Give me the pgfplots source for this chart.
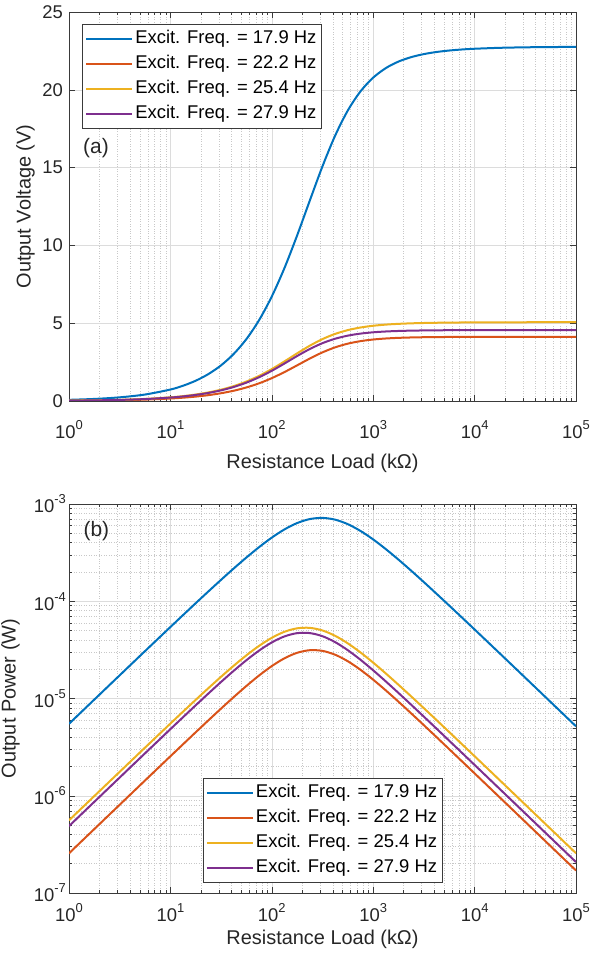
\documentclass[border=0pt]{standalone}
\usepackage{fontspec}
\setmainfont{Liberation Sans}
\usepackage{pgfplots}
\pgfplotsset{compat=1.18}
\definecolor{mblue}{HTML}{0072BD}
\definecolor{morange}{HTML}{D95319}
\definecolor{myellow}{HTML}{EDB120}
\definecolor{mpurple}{HTML}{7E2F8E}
\definecolor{axcol}{HTML}{3A3A3A}
\definecolor{gridmaj}{HTML}{DCDCDC}
\definecolor{gridmin}{HTML}{C8C8C8}
\definecolor{legcol}{HTML}{3A3A3A}
\newcommand{\logtick}{10\raisebox{9bp}{\fontsize{13}{13}\selectfont\pgfmathprintnumber[fixed,precision=0,assume math mode=true]{\tick}}}
\begin{document}
\begin{tikzpicture}[x=1bp,y=1bp]
\useasboundingbox (0,0) rectangle (601,958);
% ---------------- (a) ----------------
\begin{axis}[at={(69bp,557bp)}, anchor=south west,
  scale only axis, width=507bp, height=389bp,
  xmode=log, log basis x=10, xmin=1, xmax=100000,
  ymin=0, ymax=25, ytick={0,5,10,15,20,25},
  tick align=inside, xtick pos=both, ytick pos=both,
  major tick length=6bp, minor tick length=3bp,
  axis line style={color=axcol, line width=0.6bp},
  every tick/.style={color=axcol, line width=0.5bp},
  major grid style={color=gridmaj, line width=0.5bp},
  minor grid style={color=gridmin, line width=0.5bp, dotted},
  xmajorgrids=true, xminorgrids=true, ymajorgrids=true,
  tick label style={font=\fontsize{18.5}{20}\selectfont, text=black!85},
  xticklabel={\logtick},
  yticklabel={\pgfmathprintnumber[assume math mode=true]{\tick}},
  label style={font=\fontsize{20}{22}\selectfont, text=black!85, inner sep=0pt},
  xticklabel style={inner sep=0pt, anchor=north, yshift=-19bp},
  yticklabel style={inner sep=0pt, anchor=east, xshift=-6bp},
  xlabel={Resistance Load (k\char"03A9)},
  ylabel={Output Voltage (V)},
  xlabel style={at={(axis description cs:0.5,-0.137)}, anchor=north},
  ylabel style={at={(axis description cs:-0.067,0.5)}, anchor=south},
  legend cell align=left,
  legend style={at={(axis description cs:0.0256,0.969)}, anchor=north west,
    draw=legcol, fill=white, line width=0.6bp,
    font=\fontsize{18.5}{20}\selectfont, inner sep=3bp, row sep=2bp,
    nodes={inner sep=2bp, text height=14bp, text depth=5bp, anchor=west}},
  legend image code/.code={\draw[#1] (0bp,0bp) -- (46bp,0bp);},
]
\addplot[line width=2bp, smooth, mark=none, mblue] coordinates {(1,0.0741) (1.778,0.1317) (3.162,0.2341) (5.623,0.4156) (10,0.7371) (13.34,0.9811) (17.78,1.3035) (23.71,1.7304) (31.62,2.2927) (42.17,3.0287) (56.23,3.982) (74.99,5.1997) (100,6.718) (133.4,8.550) (177.8,10.642) (237.1,12.883) (316.2,15.086) (421.7,17.059) (562.3,18.674) (749.9,19.901) (1000,20.782) (1334,21.396) (1778,21.814) (2371,22.099) (3162,22.294) (4217,22.429) (5623,22.523) (7499,22.590) (10000,22.637) (17783,22.697) (31623,22.729) (56234,22.746) (100000,22.756)};
\addlegendentry{Excit. Freq. = 17.9 Hz}
\addplot[line width=2bp, smooth, mark=none, morange] coordinates {(1,0.0160) (1.778,0.02844) (3.162,0.05056) (5.623,0.08985) (10,0.15958) (13.34,0.21262) (17.78,0.28287) (23.71,0.37611) (31.62,0.49925) (42.17,0.6608) (56.23,0.8703) (74.99,1.1375) (100,1.4681) (133.4,1.8595) (177.8,2.2911) (237.1,2.7281) (316.2,3.1250) (421.7,3.4476) (562.3,3.6848) (749.9,3.8465) (1000,3.9511) (1334,4.0167) (1778,4.0573) (2371,4.0826) (3162,4.0983) (4217,4.1082) (5623,4.1146) (7499,4.1186) (10000,4.1215) (17783,4.1247) (31623,4.1263) (56234,4.1270) (100000,4.1275)};
\addlegendentry{Excit. Freq. = 22.2 Hz}
\addplot[line width=2bp, smooth, mark=none, myellow] coordinates {(1,0.02365) (1.778,0.04203) (3.162,0.07469) (5.623,0.1326) (10,0.2351) (13.34,0.31275) (17.78,0.4152) (23.71,0.5505) (31.62,0.7277) (42.17,0.9576) (56.23,1.2506) (74.99,1.6154) (100,2.0517) (133.4,2.5455) (177.8,3.0610) (237.1,3.5535) (316.2,3.9785) (421.7,4.3122) (562.3,4.5550) (749.9,4.7227) (1000,4.8349) (1334,4.9091) (1778,4.9578) (2371,4.9904) (3162,5.0123) (4217,5.0272) (5623,5.0376) (7499,5.0449) (10000,5.0501) (17783,5.0565) (31623,5.0600) (56234,5.0617) (100000,5.0628)};
\addlegendentry{Excit. Freq. = 25.4 Hz}
\addplot[line width=2bp, smooth, mark=none, mpurple] coordinates {(1,0.02208) (1.778,0.03926) (3.162,0.06978) (5.623,0.12396) (10,0.2200) (13.34,0.29293) (17.78,0.3893) (23.71,0.5168) (31.62,0.6843) (42.17,0.9020) (56.23,1.1804) (74.99,1.5275) (100,1.9424) (133.4,2.4093) (177.8,2.8907) (237.1,3.3406) (316.2,3.7171) (421.7,4.0017) (562.3,4.2001) (749.9,4.3310) (1000,4.4145) (1334,4.4671) (1778,4.5000) (2371,4.5208) (3162,4.5341) (4217,4.5428) (5623,4.5485) (7499,4.5524) (10000,4.5550) (17783,4.5581) (31623,4.5598) (56234,4.5607) (100000,4.5611)};
\addlegendentry{Excit. Freq. = 27.9 Hz}
\node[font=\fontsize{21}{22}\selectfont, text=black!85, anchor=center] at (rel axis cs:0.0533,0.650) {(a)};
\end{axis}
% ---------------- (b) ----------------
\begin{axis}[at={(69bp,65bp)}, anchor=south west,
  scale only axis, width=507bp, height=389bp,
  xmode=log, log basis x=10, xmin=1, xmax=100000,
  ymode=log, log basis y=10, ymin=1e-7, ymax=1e-3,
  tick align=inside, xtick pos=both, ytick pos=both,
  major tick length=6bp, minor tick length=3bp,
  axis line style={color=axcol, line width=0.6bp},
  every tick/.style={color=axcol, line width=0.5bp},
  major grid style={color=gridmaj, line width=0.5bp},
  minor grid style={color=gridmin, line width=0.5bp, dotted},
  xmajorgrids=true, xminorgrids=true, ymajorgrids=true, yminorgrids=true,
  tick label style={font=\fontsize{18.5}{20}\selectfont, text=black!85},
  xticklabel={\logtick},
  yticklabel={\logtick},
  label style={font=\fontsize{20}{22}\selectfont, text=black!85, inner sep=0pt},
  xticklabel style={inner sep=0pt, anchor=north, yshift=-10bp},
  yticklabel style={inner sep=0pt, anchor=east, xshift=-3bp},
  xlabel={Resistance Load (k\char"03A9)},
  ylabel={Output Power (W)},
  xlabel style={at={(axis description cs:0.5,-0.095)}, anchor=north},
  ylabel style={at={(axis description cs:-0.0967,0.5)}, anchor=south},
  legend cell align=left,
  legend style={at={(axis description cs:0.2637,0.295)}, anchor=north west,
    draw=legcol, fill=white, line width=0.6bp,
    font=\fontsize{18.5}{20}\selectfont, inner sep=3bp, row sep=2bp,
    nodes={inner sep=2bp, text height=14bp, text depth=5bp, anchor=west}},
  legend image code/.code={\draw[#1] (0bp,0bp) -- (46bp,0bp);},
]
\addplot[line width=2bp, smooth, mark=none, mblue] coordinates {(1,5.494e-6) (1.778,9.759e-6) (3.162,1.7328e-5) (5.623,3.0722e-5) (10,5.4332e-5) (13.34,7.2152e-5) (17.78,9.556e-5) (23.71,1.26286e-4) (31.62,1.6624e-4) (42.17,2.1752e-4) (56.23,2.8199e-4) (74.99,3.6054e-4) (100,4.5137e-4) (133.4,5.4804e-4) (177.8,6.3696e-4) (237.1,7.0000e-4) (316.2,7.1975e-4) (421.7,6.9012e-4) (562.3,6.2017e-4) (749.9,5.2813e-4) (1000,4.3191e-4) (1334,3.4316e-4) (1778,2.6763e-4) (2371,2.0597e-4) (3162,1.5719e-4) (4217,1.19296e-4) (5623,9.022e-5) (7499,6.8050e-5) (10000,5.1246e-5) (17783,2.8969e-5) (31623,1.6336e-5) (56234,9.2004e-6) (100000,5.1782e-6)};
\addlegendentry{Excit. Freq. = 17.9 Hz}
\addplot[line width=2bp, smooth, mark=none, morange] coordinates {(1,2.559e-7) (1.778,4.5484e-7) (3.162,8.0839e-7) (5.623,1.4358e-6) (10,2.5466e-6) (13.34,3.38898e-6) (17.78,4.5002e-6) (23.71,5.9662e-6) (31.62,7.8826e-6) (42.17,1.03547e-5) (56.23,1.347e-5) (74.99,1.72534e-5) (100,2.1552e-5) (133.4,2.5920e-5) (177.8,2.9522e-5) (237.1,3.1390e-5) (316.2,3.0885e-5) (421.7,2.8186e-5) (562.3,2.4147e-5) (749.9,1.9730e-5) (1000,1.5611e-5) (1334,1.20946e-5) (1778,9.2586e-6) (2371,7.0296e-6) (3162,5.3118e-6) (4217,4.0022e-6) (5623,3.0108e-6) (7499,2.2621e-6) (10000,1.6987e-6) (17783,9.5668e-7) (31623,5.3841e-7) (56234,3.0288e-7) (100000,1.7036e-7)};
\addlegendentry{Excit. Freq. = 22.2 Hz}
\addplot[line width=2bp, smooth, mark=none, myellow] coordinates {(1,5.594e-7) (1.778,9.936e-7) (3.162,1.7641e-6) (5.623,3.1270e-6) (10,5.5261e-6) (13.34,7.3324e-6) (17.78,9.6968e-6) (23.71,1.27813e-5) (31.62,1.6748e-5) (42.17,2.1744e-5) (56.23,2.7816e-5) (74.99,3.4798e-5) (100,4.2094e-5) (133.4,4.8572e-5) (177.8,5.2697e-5) (237.1,5.3258e-5) (316.2,5.0058e-5) (421.7,4.4096e-5) (562.3,3.6898e-5) (749.9,2.9743e-5) (1000,2.3376e-5) (1334,1.8065e-5) (1778,1.3825e-5) (2371,1.05036e-5) (3162,7.9454e-6) (4217,5.9932e-6) (5623,4.5132e-6) (7499,3.3939e-6) (10000,2.5503e-6) (17783,1.4378e-6) (31623,8.0965e-7) (56234,4.5562e-7) (100000,2.5632e-7)};
\addlegendentry{Excit. Freq. = 25.4 Hz}
\addplot[line width=2bp, smooth, mark=none, mpurple] coordinates {(1,4.877e-7) (1.778,8.6669e-7) (3.162,1.5398e-6) (5.623,2.7329e-6) (10,4.8401e-6) (13.34,6.4324e-6) (17.78,8.5239e-6) (23.71,1.12644e-5) (31.62,1.4807e-5) (42.17,1.92943e-5) (56.23,2.4781e-5) (74.99,3.1115e-5) (100,3.7727e-5) (133.4,4.3514e-5) (177.8,4.6996e-5) (237.1,4.7068e-5) (316.2,4.3697e-5) (421.7,3.7975e-5) (562.3,3.1373e-5) (749.9,2.5013e-5) (1000,1.9488e-5) (1334,1.49586e-5) (1778,1.1389e-5) (2371,8.6198e-6) (3162,6.5017e-6) (4217,4.8937e-6) (5623,3.6793e-6) (7499,2.7636e-6) (10000,2.0748e-6) (17783,1.1683e-6) (31623,6.5750e-7) (56234,3.6988e-7) (100000,2.0804e-7)};
\addlegendentry{Excit. Freq. = 27.9 Hz}
\node[font=\fontsize{21}{22}\selectfont, text=black!85, anchor=center] at (rel axis cs:0.054,0.9306) {(b)};
\end{axis}
\end{tikzpicture}
\end{document}
